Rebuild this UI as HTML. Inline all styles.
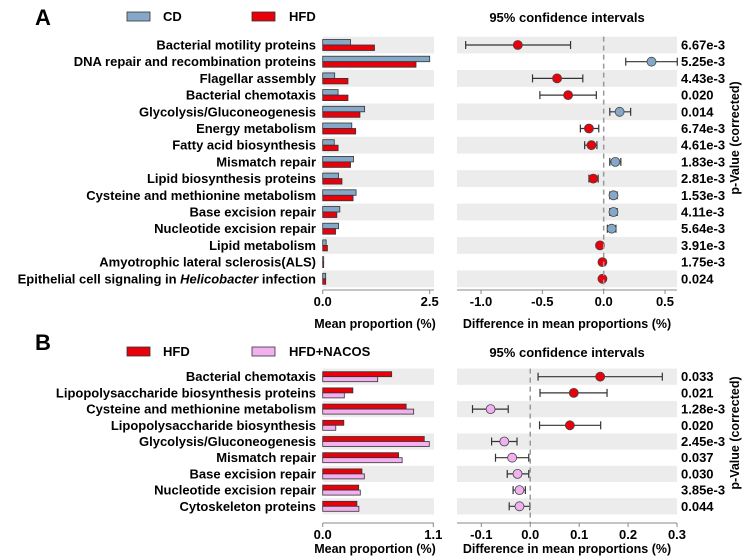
<!DOCTYPE html>
<html><head><meta charset="utf-8"><style>
html,body{margin:0;padding:0;background:#fff;}
svg{display:block;font-family:"Liberation Sans",Arial,sans-serif;}
</style></head><body>
<svg id="chart" width="747" height="558" viewBox="0 0 747 558" xmlns="http://www.w3.org/2000/svg">
<g id="static">
<text x="35" y="25" font-size="22" font-weight="bold">A</text>
<rect x="127" y="12" width="23" height="9" fill="#86a8c8" stroke="#333" stroke-width="0.8"/>
<text x="163" y="21" font-size="13" font-weight="bold">CD</text>
<rect x="252" y="12" width="23" height="9" fill="#e8000b" stroke="#333" stroke-width="0.8"/>
<text x="289" y="21" font-size="13" font-weight="bold">HFD</text>
<text x="567" y="22" font-size="13" font-weight="bold" text-anchor="middle">95% confidence intervals</text>
<text x="375" y="328" font-size="12.5" font-weight="bold" text-anchor="middle">Mean proportion (%)</text>
<text x="567" y="328" font-size="12.5" font-weight="bold" text-anchor="middle">Difference in mean proportions (%)</text>
<text transform="translate(739,138) rotate(-90)" font-size="12.5" font-weight="bold" text-anchor="middle">p-Value (corrected)</text>

<text x="35" y="350" font-size="22" font-weight="bold">B</text>
<rect x="127" y="347" width="23" height="9" fill="#e8000b" stroke="#333" stroke-width="0.8"/>
<text x="163" y="356" font-size="13" font-weight="bold">HFD</text>
<rect x="252" y="347" width="23" height="9" fill="#f2b0ee" stroke="#333" stroke-width="0.8"/>
<text x="289" y="356" font-size="13" font-weight="bold">HFD+NACOS</text>
<text x="567" y="357" font-size="13" font-weight="bold" text-anchor="middle">95% confidence intervals</text>
<text x="375" y="553" font-size="12.5" font-weight="bold" text-anchor="middle">Mean proportion (%)</text>
<text x="567" y="553" font-size="12.5" font-weight="bold" text-anchor="middle">Difference in mean proportions (%)</text>
<text transform="translate(739,433) rotate(-90)" font-size="12.5" font-weight="bold" text-anchor="middle">p-Value (corrected)</text>
</g>
</svg>
<script>
// Panel A data
const catsA = ["Bacterial motility proteins","DNA repair and recombination proteins","Flagellar assembly","Bacterial chemotaxis","Glycolysis/Gluconeogenesis","Energy metabolism","Fatty acid biosynthesis","Mismatch repair","Lipid biosynthesis proteins","Cysteine and methionine metabolism","Base excision repair","Nucleotide excision repair","Lipid metabolism","Amyotrophic lateral sclerosis(ALS)","Epithelial cell signaling in |Helicobacter| infection"];
const cdA = [0.65,2.5,0.28,0.36,0.98,0.68,0.27,0.72,0.37,0.78,0.40,0.37,0.08,0.01,0.07];
const hfdA = [1.21,2.18,0.59,0.59,0.87,0.77,0.36,0.65,0.45,0.71,0.33,0.30,0.11,0.01,0.07];
const diffA = [-0.70,0.39,-0.38,-0.29,0.13,-0.12,-0.10,0.095,-0.085,0.08,0.08,0.065,-0.03,-0.01,-0.01];
const loA = [-1.125,0.18,-0.58,-0.52,0.05,-0.19,-0.155,0.05,-0.12,0.05,0.05,0.03,-0.045,-0.015,-0.015];
const hiA = [-0.27,0.60,-0.17,-0.06,0.22,-0.04,-0.055,0.14,-0.045,0.11,0.11,0.10,-0.015,-0.005,-0.005];
const pA = ["6.67e-3","5.25e-3","4.43e-3","0.020","0.014","6.74e-3","4.61e-3","1.83e-3","2.81e-3","1.53e-3","4.11e-3","5.64e-3","3.91e-3","1.75e-3","0.024"];
const barTicksA = [0,2.5];
const barTickLabelsA = ["0.0","2.5"];
const diffTicksA = [-1.0,-0.5,0.0,0.5];
const diffTickLabelsA = ["-1.0","-0.5","0.0","0.5"];

// Panel B data
const catsB = ["Bacterial chemotaxis","Lipopolysaccharide biosynthesis proteins","Cysteine and methionine metabolism","Lipopolysaccharide biosynthesis","Glycolysis/Gluconeogenesis","Mismatch repair","Base excision repair","Nucleotide excision repair","Cytoskeleton proteins"];
const hfdB = [0.686,0.30,0.83,0.21,1.01,0.755,0.39,0.358,0.34];
const nacosB = [0.547,0.215,0.905,0.13,1.06,0.79,0.414,0.374,0.36];
const diffB = [0.143,0.089,-0.081,0.081,-0.053,-0.037,-0.026,-0.022,-0.022];
const loB = [0.016,0.02,-0.118,0.019,-0.079,-0.071,-0.047,-0.035,-0.043];
const hiB = [0.27,0.157,-0.045,0.144,-0.027,-0.003,-0.003,-0.01,-0.001];
const pB = ["0.033","0.021","1.28e-3","0.020","2.45e-3","0.037","0.030","3.85e-3","0.044"];
const barTicksB = [0,1.1];
const barTickLabelsB = ["0.0","1.1"];
const diffTicksB = [-0.1,0.0,0.1,0.2,0.3];
const diffTickLabelsB = ["-0.1","0.0","0.1","0.2","0.3"];

const NS = "http://www.w3.org/2000/svg";
const svg = document.getElementById("chart");
function mk(tag, attrs, parent){const e=document.createElementNS(NS,tag);for(const k in attrs)e.setAttribute(k,attrs[k]);(parent||svg).appendChild(e);return e;}

function panel(cfg){
  const {cats,s1,s2,c1,c2,cNeg,cPos,diff,lo,hi,pv,bx0,bx1,bmax,dmin,dmax,dx0,dx1,y0,step,axisY,bTicks,bLabels,dTicks,dLabels,barH,id}=cfg;
  const xb=v=>bx0+(v/bmax)*(bx1-bx0);
  const xd=v=>dx0+(v-dmin)/(dmax-dmin)*(dx1-dx0);
  const g=mk("g",{});
  
  
  cats.forEach((c,i)=>{
    const cy=y0+i*step;
    if(i%2===0){
      const b1=mk("rect",{x:bx0,y:cy-step/2,width:434-bx0,height:step,fill:"#ececec"},g);
      
      
      const b2=mk("rect",{x:dx0,y:cy-step/2,width:dx1-dx0,height:step,fill:"#ececec"},g);
      
      
    }
    const t=mk("text",{x:316,y:cy+4.5,"font-size":"13","font-weight":"bold","text-anchor":"end"},g);
    
    
    c.split("|").forEach((part,k)=>{const ts=mk("tspan",{},t);if(k===1)ts.setAttribute("font-style","italic");ts.textContent=part;});
    const r1=mk("rect",{x:bx0,y:cy-barH,width:Math.max(1,xb(s1[i])-bx0),height:barH,fill:c1,stroke:"#333","stroke-width":0.8},g);
    
    
    const r2=mk("rect",{x:bx0,y:cy,width:Math.max(1,xb(s2[i])-bx0),height:barH,fill:c2,stroke:"#333","stroke-width":0.8},g);
    
    
    const l=mk("line",{x1:xd(lo[i]),x2:xd(hi[i]),y1:cy,y2:cy,stroke:"#333","stroke-width":1.2},g);
    
    
    [lo[i],hi[i]].forEach(v=>{const cp=mk("line",{x1:xd(v),x2:xd(v),y1:cy-4,y2:cy+4,stroke:"#333","stroke-width":1.2},g);
      
      });
    const pt=mk("circle",{cx:xd(diff[i]),cy:cy,r:4.5,fill:diff[i]<0?cNeg:cPos,stroke:"#444","stroke-width":0.8},g);
    
    
    const p=mk("text",{x:681,y:cy+4.5,"font-size":"13","font-weight":"bold"},g);
    
    
    p.textContent=pv[i];
  });
  const top=y0-step/2;
  const zl=mk("line",{x1:xd(0),x2:xd(0),y1:top,y2:axisY,stroke:"#999","stroke-width":1.5,"stroke-dasharray":"5,4"},g);
  
  
  const ax1=mk("line",{x1:bx0,x2:434,y1:axisY,y2:axisY,stroke:"#888","stroke-width":1},g);
  
  
  const ax2=mk("line",{x1:dx0,x2:dx1,y1:axisY,y2:axisY,stroke:"#888","stroke-width":1},g);
  
  
  bTicks.forEach((v,k)=>{
    const tk=mk("line",{x1:xb(v),x2:xb(v),y1:axisY,y2:axisY+4,stroke:"#888"},g);
    
    
    const tl=mk("text",{x:xb(v),y:axisY+16,"font-size":"13","font-weight":"bold","text-anchor":"middle"},g);
    
    
    tl.textContent=bLabels[k];
  });
  dTicks.forEach((v,k)=>{
    const tk=mk("line",{x1:xd(v),x2:xd(v),y1:axisY,y2:axisY+4,stroke:"#888"},g);
    
    
    const tl=mk("text",{x:xd(v),y:axisY+16,"font-size":"13","font-weight":"bold","text-anchor":"middle"},g);
    
    
    tl.textContent=dLabels[k];
  });
}

panel({id:"panel-a",cats:catsA,s1:cdA,s2:hfdA,c1:"#86a8c8",c2:"#e8000b",cNeg:"#e8000b",cPos:"#86a8c8",
  diff:diffA,lo:loA,hi:hiA,pv:pA,bx0:322.7,bx1:429.7,bmax:2.5,dmin:-1.1956,dmax:0.5978,dx0:457,dx1:677,
  y0:45,step:16.7,axisY:290,bTicks:barTicksA,bLabels:barTickLabelsA,dTicks:diffTicksA,dLabels:diffTickLabelsA,barH:5.5});
panel({id:"panel-b",cats:catsB,s1:hfdB,s2:nacosB,c1:"#e8000b",c2:"#f2b0ee",cNeg:"#f2b0ee",cPos:"#e8000b",
  diff:diffB,lo:loB,hi:hiB,pv:pB,bx0:322.7,bx1:433.3,bmax:1.1,dmin:-0.1497,dmax:0.3,dx0:457,dx1:677,
  y0:376.7,step:16.2,axisY:523,bTicks:barTicksB,bLabels:barTickLabelsB,dTicks:diffTicksB,dLabels:diffTickLabelsB,barH:5});
</script>
</body></html>
